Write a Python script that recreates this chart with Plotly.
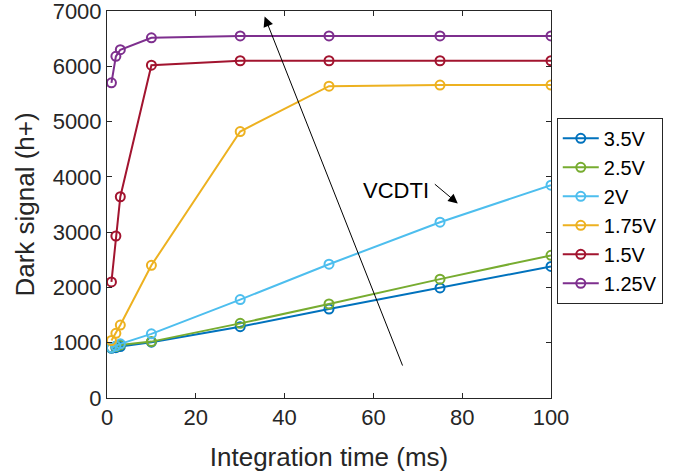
import plotly.graph_objects as go

# Integration times (ms)
t_ms = [1, 2, 3, 10, 30, 50, 75, 100]

# Dark signal (h+) per VCDTI bias
series_names = ["3.5V", "2.5V", "2V", "1.75V", "1.5V", "1.25V"]
sig_3v5 = [900, 910, 930, 1010, 1290, 1610, 1990, 2380]
sig_2v5 = [910, 930, 960, 1020, 1350, 1700, 2150, 2580]
sig_2v0 = [910, 940, 980, 1160, 1780, 2420, 3180, 3850]
sig_1v75 = [1040, 1170, 1320, 2400, 4820, 5640, 5660, 5660]
sig_1v5 = [2100, 2930, 3640, 6020, 6100, 6100, 6100, 6100]
sig_1v25 = [5700, 6180, 6300, 6515, 6550, 6550, 6550, 6550]

colors = ["#0072BD", "#77AC30", "#4DBEEE", "#EDB120", "#A2142F", "#7E2F8E"]
all_series = [sig_3v5, sig_2v5, sig_2v0, sig_1v75, sig_1v5, sig_1v25]

FONT = "Liberation Sans, Arial, Helvetica, sans-serif"
AX = "#262626"

fig = go.Figure()
for name, ys, c in zip(series_names, all_series, colors):
    fig.add_trace(go.Scatter(
        x=t_ms, y=ys, name=name, mode="lines+markers",
        line=dict(color=c, width=2),
        marker=dict(symbol="circle-open", size=9, color=c, line=dict(width=2, color=c)),
    ))

# Long trend arrow (decreasing VCDTI)
fig.add_annotation(x=35.5, y=6900, ax=66.7, ay=560, xref="x", yref="y",
                   axref="x", ayref="y", showarrow=True, arrowhead=2,
                   arrowsize=2, arrowwidth=1, arrowcolor="black", text="")
# Label with small arrow
fig.add_annotation(x=65, y=3760, xref="x", yref="y", text="VCDTI",
                   showarrow=False, font=dict(family=FONT, size=22, color="black"))
fig.add_annotation(x=79, y=3520, ax=73.5, ay=3890, xref="x", yref="y",
                   axref="x", ayref="y", showarrow=True, arrowhead=2,
                   arrowsize=1.9, arrowwidth=1, arrowcolor="black", text="")

axis_common = dict(showline=True, linecolor=AX, linewidth=1, mirror="ticks",
                   ticks="inside", ticklen=5, tickcolor=AX, showgrid=False,
                   zeroline=False, automargin=False, ticklabeloverflow="allow",
                   tickfont=dict(family=FONT, size=22, color=AX))

fig.update_xaxes(range=[0, 100], tickvals=[0, 20, 40, 60, 80, 100],
                 title=dict(text="Integration time (ms)", font=dict(family=FONT, size=26, color=AX),
                            standoff=18),
                 **axis_common)
fig.update_yaxes(range=[0, 7000], tickvals=list(range(0, 7001, 1000)),
                 title=dict(text="Dark signal (h+)", font=dict(family=FONT, size=26, color=AX),
                            standoff=10),
                 **axis_common)

fig.update_layout(
    width=686, height=476,
    margin=dict(l=107, r=135, t=11, b=78),
    paper_bgcolor="white", plot_bgcolor="white",
    font=dict(family=FONT, color=AX),
    showlegend=True,
    legend=dict(x=1.013, y=0.724, xanchor="left", yanchor="top",
                bordercolor=AX, borderwidth=1, bgcolor="white",
                font=dict(family=FONT, size=20, color="black"),
                itemwidth=36, tracegroupgap=0),
)

fig.write_html("out.html")
